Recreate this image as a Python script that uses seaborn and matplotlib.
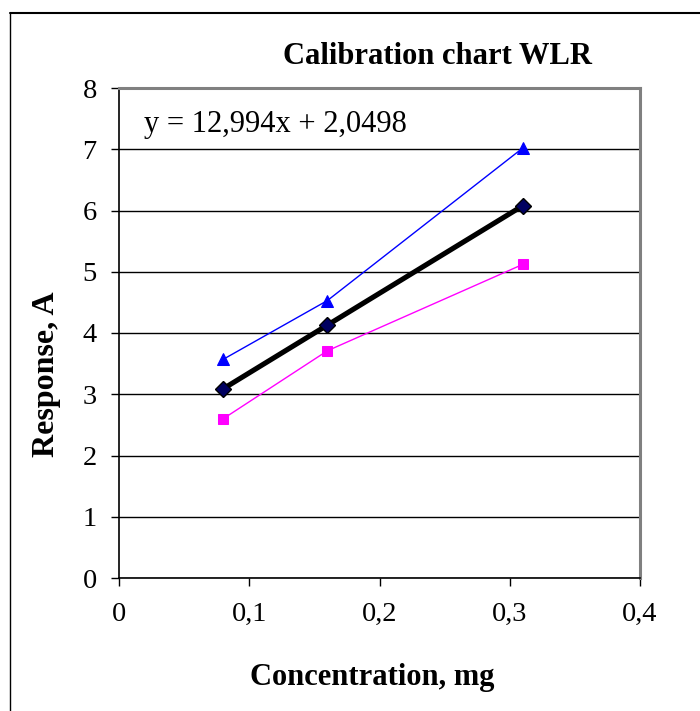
import matplotlib
matplotlib.use("Agg")
import matplotlib.pyplot as plt
from matplotlib.lines import Line2D
from matplotlib.ticker import FuncFormatter
import seaborn as sns
import pandas as pd

# Calibration measurements
concentration = [0.08, 0.16, 0.31]
response_high = [3.57, 4.53, 7.02]
response_low = [2.60, 3.71, 5.12]
slope = 12.994
intercept = 2.0498
response_fit = [slope * c + intercept for c in concentration]

x_ticks = [0, 0.1, 0.2, 0.3, 0.4]
y_ticks = [0, 1, 2, 3, 4, 5, 6, 7, 8]

sns.set_theme(style="white")
plt.rcParams["font.family"] = ["Liberation Serif", "DejaVu Serif"]
plt.rcParams["text.color"] = "black"
plt.rcParams["axes.labelcolor"] = "black"
plt.rcParams["xtick.color"] = "black"
plt.rcParams["ytick.color"] = "black"

df = pd.DataFrame({
    "Concentration": concentration * 3,
    "Response": response_high + response_low + response_fit,
    "Series": ["high"] * 3 + ["low"] * 3 + ["fit"] * 3,
})

fig = plt.figure(figsize=(7.0, 7.11), dpi=100)
ax = fig.add_axes([119 / 700, 1 - 578 / 711, (640 - 119) / 700, (578 - 88) / 711])

sns.lineplot(data=df[df.Series == "high"], x="Concentration", y="Response",
             color="#0000FF", lw=1.0, marker="^", markersize=8.5,
             markeredgecolor="#0000FF", ax=ax, zorder=3)
sns.lineplot(data=df[df.Series == "low"], x="Concentration", y="Response",
             color="#FF00FF", lw=1.0, marker="s", markersize=7,
             markeredgecolor="#FF00FF", ax=ax, zorder=3)
sns.lineplot(data=df[df.Series == "fit"], x="Concentration", y="Response",
             color="black", lw=3.7, marker="D", markersize=8.5,
             markerfacecolor="#000060", markeredgecolor="black",
             markeredgewidth=1.0, ax=ax, zorder=4)

ax.set_xlim(0, 0.4)
ax.set_ylim(0, 8)
ax.set_xticks(x_ticks)
ax.set_yticks(y_ticks)
comma = FuncFormatter(lambda v, p: ("%g" % round(v, 3)).replace(".", ","))
ax.xaxis.set_major_formatter(comma)
ax.yaxis.set_major_formatter(comma)
ax.tick_params(axis="both", which="major", direction="out", length=6, width=1,
               color="black", labelsize=20.5, labelcolor="black", bottom=True, left=True)
ax.tick_params(axis="x", pad=11)
ax.tick_params(axis="y", pad=10)

ax.yaxis.grid(True, color="black", lw=1.0)
ax.xaxis.grid(False)
ax.set_axisbelow(True)

for side in ["left", "bottom"]:
    ax.spines[side].set_color("black")
    ax.spines[side].set_linewidth(1.2)
for side in ["top", "right"]:
    ax.spines[side].set_color("#808080")
    ax.spines[side].set_linewidth(2.2)

ax.set_xlabel("")
ax.set_ylabel("")

ax.text(0.019, 7.4, "y = 12,994x + 2,0498", fontsize=22, color="black",
        ha="left", va="center")

fig.text(437 / 700, 1 - 57 / 711, "Calibration chart WLR", fontsize=22,
         fontweight="bold", ha="center", va="center", color="black")
fig.text(372 / 700, 1 - 677 / 711, "Concentration, mg", fontsize=22,
         fontweight="bold", ha="center", va="center", color="black")
fig.text(47 / 700, 1 - 374 / 711, "Response, A", fontsize=23,
         fontweight="bold", ha="center", va="center", rotation=90, color="black")

# Outer chart frame
fig.add_artist(Line2D([10 / 700, 1.0], [1 - 13 / 711, 1 - 13 / 711],
                      transform=fig.transFigure, color="black", lw=1.5))
fig.add_artist(Line2D([10 / 700, 10 / 700], [0.0, 1 - 13 / 711],
                      transform=fig.transFigure, color="black", lw=1.0))

fig.savefig("out.png", dpi=100, facecolor="white")
